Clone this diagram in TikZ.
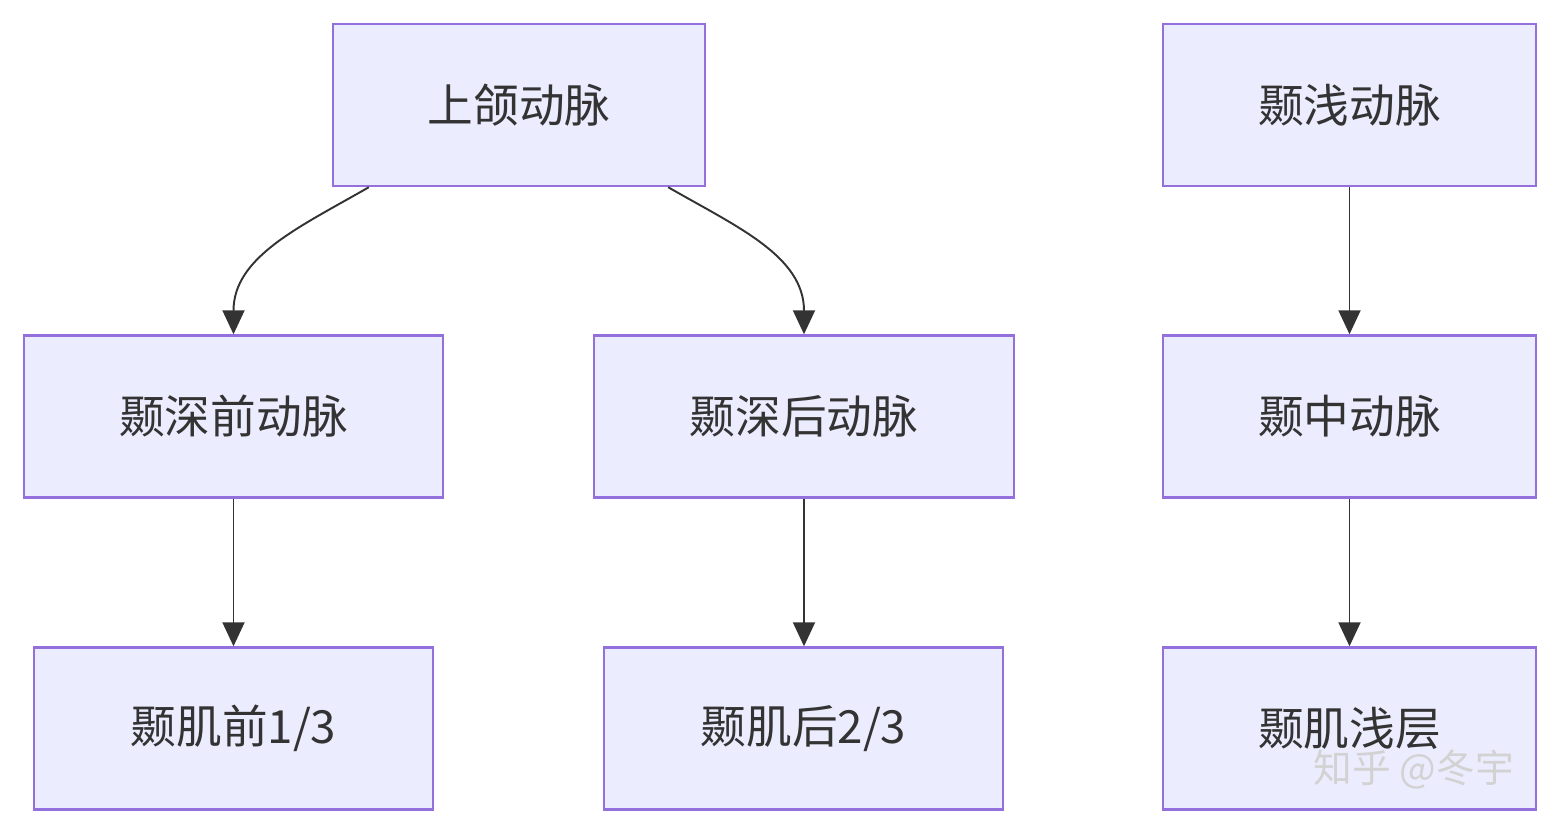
\documentclass[tikz,border=0pt]{standalone}
\usepackage{fontspec}
\newfontfamily\cjk{Noto Sans CJK SC}
\usetikzlibrary{positioning,arrows.meta}
\definecolor{boxFill}{HTML}{ECECFF}
\definecolor{boxLine}{HTML}{9370DB}
\definecolor{lineGray}{HTML}{333333}
\tikzset{%
  artery/.style={rectangle, draw=boxLine, fill=boxFill, line width=1.4pt, minimum height=3.24cm, text=lineGray, font=\cjk\fontsize{26}{30}\selectfont, align=center},
  link/.style={draw=lineGray, line width=1.1pt, -{Triangle[length=0.48cm,width=0.44cm]}},
}
\begin{document}
\begin{tikzpicture}[x=0.02cm,y=-0.02cm]
    \useasboundingbox (0,0) rectangle (1560,834);
    %Nodes
    \node[artery, minimum width=7.44cm] (maxillary) at (519,105) {上颌动脉};
    \node[artery, minimum width=8.38cm] (deepAnt) at (233.5,416.5) {颞深前动脉};
    \node[artery, minimum width=8.4cm] (deepPost) at (804,416.5) {颞深后动脉};
    \node[artery, minimum width=7.98cm] (muscleAnt) at (233.5,728.5) {颞肌前1/3};
    \node[artery, minimum width=7.98cm] (musclePost) at (803.5,728.5) {颞肌后2/3};
    \node[artery, minimum width=7.46cm] (superficial) at (1349.5,105) {颞浅动脉};
    \node[artery, minimum width=7.46cm] (middle) at (1349.5,416.5) {颞中动脉};
    \node[artery, minimum width=7.46cm] (muscleSup) at (1349.5,728.5) {颞肌浅层};
    \node[text=gray!35, font=\cjk\fontsize{22}{26}\selectfont, anchor=south east] (mark) at (1520,795) {知乎 @冬宇};

    %Lines
    \draw[link] ([xshift=0.74cm]maxillary.south west) to[out=-150,in=90] (deepAnt.north);
    \draw[link] ([xshift=-0.76cm]maxillary.south east) to[out=-30,in=90] (deepPost.north);
    \draw[link] (deepAnt) -- (muscleAnt);
    \draw[link] (deepPost.south) -- (deepPost.south |- musclePost.north);
    \draw[link] (superficial) -- (middle);
    \draw[link] (middle) -- (muscleSup);
\end{tikzpicture}
\end{document}
